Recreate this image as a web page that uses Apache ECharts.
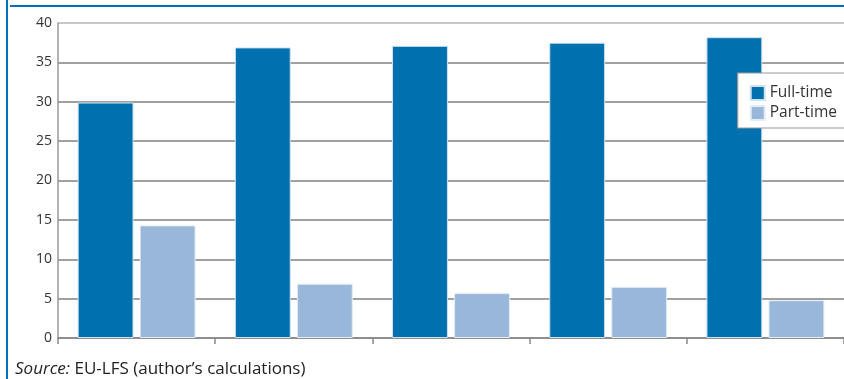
<!DOCTYPE html>
<html>
<head>
<meta charset="utf-8">
<script src="https://cdn.jsdelivr.net/npm/echarts@6/dist/echarts.min.js"></script>
<style>
html,body{margin:0;padding:0;background:#fff;}
#c{width:844px;height:379px;}
</style>
</head>
<body>
<div id="c"></div>
<script>
const categories = ['1', '2', '3', '4', '5'];
const fullTime = [29.9, 36.9, 37.1, 37.5, 38.2];
const partTime = [14.3, 6.9, 5.7, 6.5, 4.8];
const yTicks = [0, 5, 10, 15, 20, 25, 30, 35, 40];

const chart = echarts.init(document.getElementById('c'));
const font = "'Open Sans', 'Noto Sans', sans-serif";
chart.setOption({
  animation: false,
  grid: { left: 58, width: 791, top: 23, height: 315 },
  legend: {
    orient: 'vertical', right: -20, top: 73,
    padding: [12, 27, 7, 12],
    backgroundColor: '#fff', borderColor: '#999', borderWidth: 1.2,
    itemWidth: 14, itemHeight: 14, itemGap: 4,
    textStyle: { fontFamily: font, fontSize: 15.5, color: '#333' },
    data: [
      { name: 'Full-time', icon: 'rect' },
      { name: 'Part-time', icon: 'rect' }
    ]
  },
  xAxis: {
    type: 'category', data: categories,
    axisLine: { lineStyle: { color: '#888', width: 1.5 } },
    axisTick: { show: true, length: 6, lineStyle: { color: '#888', width: 1.5 } },
    axisLabel: { show: false },
    splitLine: { show: false }
  },
  yAxis: {
    type: 'value', min: yTicks[0], max: yTicks[yTicks.length - 1], interval: 5,
    axisLine: { show: true, lineStyle: { color: '#999', width: 1.5 } },
    axisTick: { show: false },
    axisLabel: { fontFamily: font, fontSize: 14, color: '#333', margin: 6 },
    splitLine: { lineStyle: { color: ['#808080', '#808080', '#808080', '#808080', '#808080', '#808080', '#808080', '#808080', '#b3b3b3'], width: 1.5 } }
  },
  series: [
    { name: 'Full-time', type: 'bar', data: fullTime, barCategoryGap: '25%', barGap: '11%',
      itemStyle: { color: '#0070ae', borderColor: '#cfe2f0', borderWidth: 1 } },
    { name: 'Part-time', type: 'bar', data: partTime,
      itemStyle: { color: '#99b7d9', borderColor: '#e4edf7', borderWidth: 1 } }
  ],
  graphic: [
    { type: 'line', shape: { x1: 7, y1: 0, x2: 7, y2: 379 }, style: { stroke: '#0070b8', lineWidth: 2 } },
    { type: 'line', shape: { x1: 10, y1: 6, x2: 844, y2: 6 }, style: { stroke: '#0070b8', lineWidth: 2 } },
    { type: 'text', left: 15, top: 361, style: { text: '{i|Source:} EU-LFS (author\u2019s calculations)',
      rich: { i: { fontStyle: 'italic', fontFamily: font, fontSize: 17, fill: '#222' } },
      fontFamily: font, fontSize: 17, fill: '#222' } }
  ]
});
</script>
</body>
</html>
